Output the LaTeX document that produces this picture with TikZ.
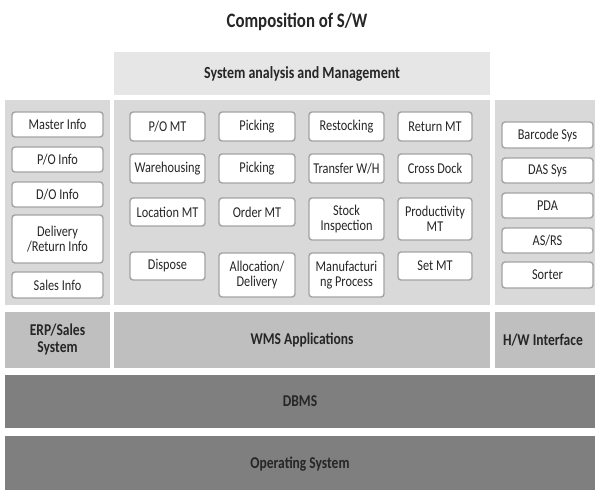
\documentclass[tikz,border=0pt]{standalone}
\usepackage{fontspec}
\setmainfont{Carlito}[FakeStretch=0.82]
\definecolor{saFill}{HTML}{E6E6E6}
\definecolor{panelFill}{HTML}{D9D9D9}
\definecolor{layerFill}{HTML}{BFBFBF}
\definecolor{baseFill}{HTML}{7F7F7F}
\definecolor{boxLine}{HTML}{A3A3A3}
\definecolor{txt}{HTML}{262626}
\tikzset{
  area/.style={draw=none, inner sep=0pt, text=txt, align=center},
  box/.style={draw=boxLine, line width=1.4pt, rounded corners=3pt, fill=white,
    inner sep=0pt, text=txt, align=center, font=\fontsize{15}{15}\selectfont},
  lbl/.style={text=txt, font=\bfseries\fontsize{16.5}{17}\selectfont, align=center},
}
\newcommand{\rect}[6]{% name, x1, y1, x2, y2, fill
  \fill[#6] (#2,#3) rectangle (#4,#5);
  \coordinate (#1) at ({(#2+#4)/2},{(#3+#5)/2});}
\newcommand{\bx}[6]{% name, x1, y1, x2, y2, text
  \node[box, minimum width={(#4-#2)*1pt}, minimum height={(#5-#3)*1pt}] (#1) at ({(#2+#4)/2},{(#3+#5)/2}) {#6};}
\begin{document}
\begin{tikzpicture}[x=1pt,y=-1pt]
\useasboundingbox (0,0) rectangle (595,490);
\fill[white] (0,0) rectangle (595,490);
\node[text=txt, font=\bfseries\fontsize{20.5}{21}\selectfont] (title) at (297,22) {Composition of S/W};
% System analysis
\rect{sa}{114}{52}{490}{95}{saFill}
\node[lbl, font=\bfseries\fontsize{17}{17}\selectfont] (saT) at (sa) {System analysis and Management};
% panels
\rect{pl}{5}{100}{110}{305}{panelFill}
\rect{pm}{114}{100}{490}{305}{panelFill}
\rect{pr}{495}{100}{600}{305}{panelFill}
% layer 2
\rect{erp}{5}{312}{110}{368}{layerFill}
\node[lbl] (erpT) at (erp) {ERP/Sales\\System};
\rect{wms}{114}{312}{490}{368}{layerFill}
\node[lbl] (wmsT) at (wms) {WMS Applications};
\rect{hw}{495}{312}{600}{368}{layerFill}
\node[lbl] (hwT) at (543,340) {H/W Interface};
\rect{dbms}{5}{375}{600}{428}{baseFill}
\node[lbl] (dbmsT) at (300,401.5) {DBMS};
\rect{os}{5}{436}{600}{495}{baseFill}
\node[lbl] (osT) at (300,464) {Operating System};
% left boxes
\bx{l1}{12}{112}{103}{137}{Master Info}
\bx{l2}{12}{147}{103}{172}{P/O Info}
\bx{l3}{12}{182}{103}{207}{D/O Info}
\bx{l4}{12}{215}{103}{263}{Delivery\\/Return Info}
\bx{l5}{12}{272}{103}{298}{Sales Info}
% middle boxes
\bx{m11}{130}{112}{205}{141}{P/O MT}
\bx{m12}{219}{112}{295}{141}{Picking}
\bx{m13}{309}{112}{384}{141}{Restocking}
\bx{m14}{398}{112}{472}{141}{Return MT}
\bx{m21}{130}{154}{205}{183}{Warehousing}
\bx{m22}{219}{154}{295}{183}{Picking}
\bx{m23}{309}{154}{384}{183}{Transfer W/H}
\bx{m24}{398}{154}{472}{183}{Cross Dock}
\bx{m31}{130}{198}{205}{226}{Location MT}
\bx{m32}{219}{198}{295}{226}{Order MT}
\bx{m33}{309}{198}{384}{240}{Stock\\Inspection}
\bx{m34}{398}{198}{472}{240}{Productivity\\MT}
\bx{m41}{130}{252}{205}{280}{Dispose}
\bx{m42}{219}{253}{295}{297}{Allocation/\\Delivery}
\bx{m43}{309}{253}{384}{297}{Manufacturi\\ng Process}
\bx{m44}{398}{252}{472}{280}{Set MT}
% right boxes
\bx{r1}{502}{122}{593}{148}{Barcode Sys}
\bx{r2}{502}{158}{593}{183}{DAS Sys}
\bx{r3}{502}{193}{593}{218}{PDA}
\bx{r4}{502}{228}{593}{253}{AS/RS}
\bx{r5}{502}{262}{593}{288}{Sorter}
\end{tikzpicture}
\end{document}
